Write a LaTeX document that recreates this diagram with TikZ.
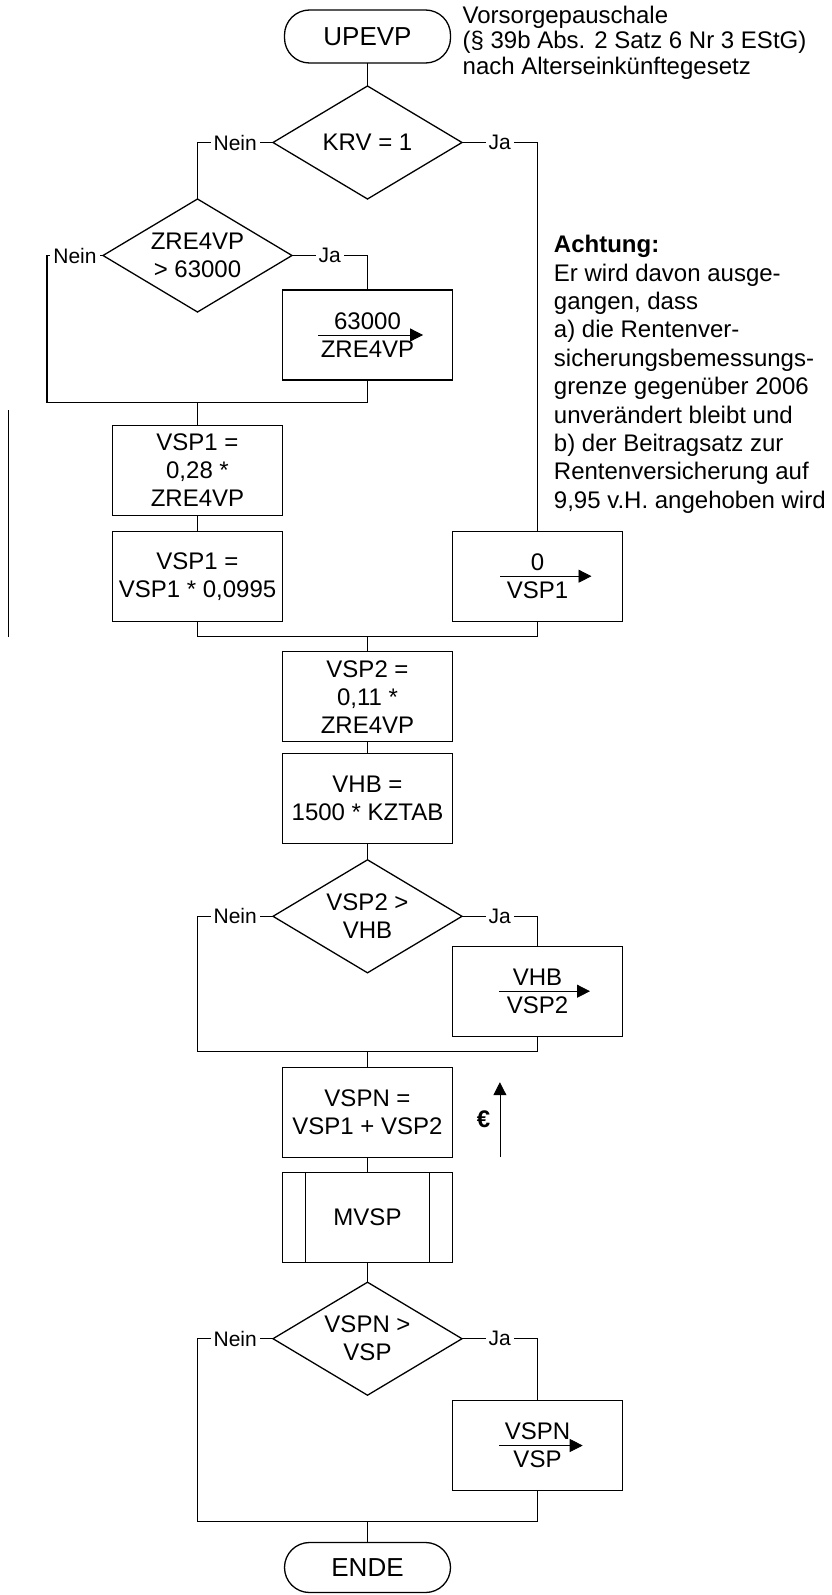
\documentclass[tikz,border=0pt]{standalone}
\usepackage{fontspec}
\setmainfont{Liberation Sans}
\usepackage{tikz}
\usetikzlibrary{shapes,positioning,calc,arrows.meta}

\begin{document}
\begin{tikzpicture}
            [
            line width=0.65pt,
            font=\fontsize{12}{14}\selectfont,
            term/.style={rectangle, draw, rounded corners=12.5pt, minimum width=83pt,
                minimum height=26.5pt, outer sep=0pt, font=\fontsize{13}{15}\selectfont},
            test/.style={diamond, draw, aspect=1.67, inner sep=0pt, outer sep=0pt,
                minimum width=94.5pt, minimum height=56.5pt, align=center},
            proc/.style={rectangle, draw, minimum width=85pt, minimum height=45pt,
                inner sep=1pt, outer sep=0pt, align=center},
            lbl/.style={fill=white, inner sep=1.5pt, font=\fontsize{10.5}{12}\selectfont},
            set arrow/.style={line width=0.4pt, -{Triangle[length=6.5pt, width=6.5pt]}}
            ]
            \useasboundingbox (0,0) rectangle (415.5pt,-797.5pt);

            \node (upevp) [term] at (183.75pt,-18.25pt) {UPEVP};
            \node (krv) [test, below=11.5pt of upevp] {KRV = 1};
            \node (zre) [test, below=0pt of krv, xshift=-85pt] {ZRE4VP\\> 63000};
            \node (zmax) [proc, below=45.5pt of krv] {63000\\ZRE4VP};
            \node (vspa) [proc, below=56.75pt of zre] {VSP1 =\\0,28 *\\ZRE4VP};
            \node (vspb) [proc, below=7.85pt of vspa] {VSP1 =\\VSP1 * 0,0995};
            \node (vspnull) [proc, right=85pt of vspb] {0\\VSP1};
            \node (vsptwo) [proc, below=15.3pt of vspb, xshift=85pt] {VSP2 =\\0,11 *\\ZRE4VP};
            \node (vhb) [proc, below=6pt of vsptwo] {VHB =\\1500 * KZTAB};
            \node (vhbtest) [test, below=8pt of vhb] {VSP2 >\\VHB};
            \node (vhbset) [proc, below=51.2pt of vhb, xshift=85pt] {VHB\\VSP2};
            \node (vspn) [proc, below=47.2pt of vhbtest] {VSPN =\\VSP1 + VSP2};
            \node (mvsp) [proc, below=7.5pt of vspn] {MVSP};
            \node (vspntest) [test, below=10pt of mvsp] {VSPN >\\VSP};
            \node (vspset) [proc, below=2.65pt of vspntest, xshift=85pt] {VSPN\\VSP};
            \node (ende) [term, minimum height=25pt, below=73.65pt of vspntest] {ENDE};

            % Notes
            \node (vorsorge) [anchor=base west, align=left, inner sep=0pt,
                font=\fontsize{12}{12.85}\selectfont] at (231pt,-37.35pt)
                {Vorsorgepauschale\\(§ 39b Abs. 2 Satz 6 Nr 3 EStG)\\nach Alterseinkünftegesetz};
            \node (achtung) [anchor=base west, align=left, inner sep=0pt,
                font=\fontsize{12}{14.2}\selectfont] at (276.65pt,-254.15pt)
                {\textbf{Achtung:}\\Er wird davon ausge-\\gangen, dass\\a) die Rentenver-\\
                sicherungsbemessungs-\\grenze gegenüber 2006\\unverändert bleibt und\\
                b) der Beitragsatz zur\\Rentenversicherung auf\\9,95 v.H. angehoben wird};

            \foreach \i/\j in {upevp/krv,vspa/vspb,vsptwo/vhb,vhb/vhbtest,vspn/mvsp,mvsp/vspntest}
            \draw (\i) -- (\j);

            \draw (krv.west) -- node[lbl] {Nein} (krv.west -| zre.north) -- (zre.north);
            \draw (krv.east) -- node[lbl] {Ja} (krv.east -| vspnull.north) -- (vspnull.north);
            \draw (zre.east) -- node[lbl] {Ja} (zre.east -| zmax.north) -- (zmax.north);
            \coordinate (zleft) at ([xshift=-28pt]zre.west);
            \coordinate (merge1) at ([yshift=11.5pt]vspa.north);
            \draw (zre.west) -- node[lbl] {Nein} (zleft) |- (merge1) -| (zmax.south);
            \draw (merge1) -- (vspa.north);

            \coordinate (merge2) at ([yshift=7.8pt]vsptwo.north);
            \draw (vspb.south) |- (merge2) -| (vspnull.south);
            \draw (merge2) -- (vsptwo.north);

            \coordinate (vhbleft) at ([xshift=-85pt]vhbtest.center);
            \coordinate (merge3) at ([yshift=7.7pt]vspn.north);
            \draw (vhbtest.west) -- node[lbl] {Nein} (vhbleft) |- (merge3) -| (vhbset.south);
            \draw (vhbtest.east) -- node[lbl] {Ja} (vhbtest.east -| vhbset.north) -- (vhbset.north);
            \draw (merge3) -- (vspn.north);

            \coordinate (vspnleft) at ([xshift=-85pt]vspntest.center);
            \coordinate (merge4) at ([yshift=10.5pt]ende.north);
            \draw (vspntest.west) -- node[lbl] {Nein} (vspnleft) |- (merge4) -| (vspset.south);
            \draw (vspntest.east) -- node[lbl] {Ja} (vspntest.east -| vspset.north) -- (vspset.north);
            \draw (merge4) -- (ende.north);

            % Unterprogramm
            \draw ([xshift=11.5pt]mvsp.north west) -- ([xshift=11.5pt]mvsp.south west);
            \draw ([xshift=-11.5pt]mvsp.north east) -- ([xshift=-11.5pt]mvsp.south east);

            % Zuweisungen
            \foreach \n/\a/\b in {zmax/24.7/27.8,vspnull/18.75/27,vhbset/19.1/26.25,vspset/19.1/22.6}
            \draw [set arrow] ([xshift=-\a pt]\n.center) -- ([xshift=\b pt]\n.center);

            \coordinate (eurobase) at ([xshift=23.7pt]vspn.south east);
            \coordinate (eurotip) at ([yshift=37.5pt]eurobase);
            \draw [set arrow] (eurobase) -- node[left=4.6pt, inner sep=0pt] {\textbf{€}} (eurotip);

            \draw [line width=0.5pt] (4.15pt,-205pt) -- (4.15pt,-318.35pt);
        \end{tikzpicture}
\end{document}
